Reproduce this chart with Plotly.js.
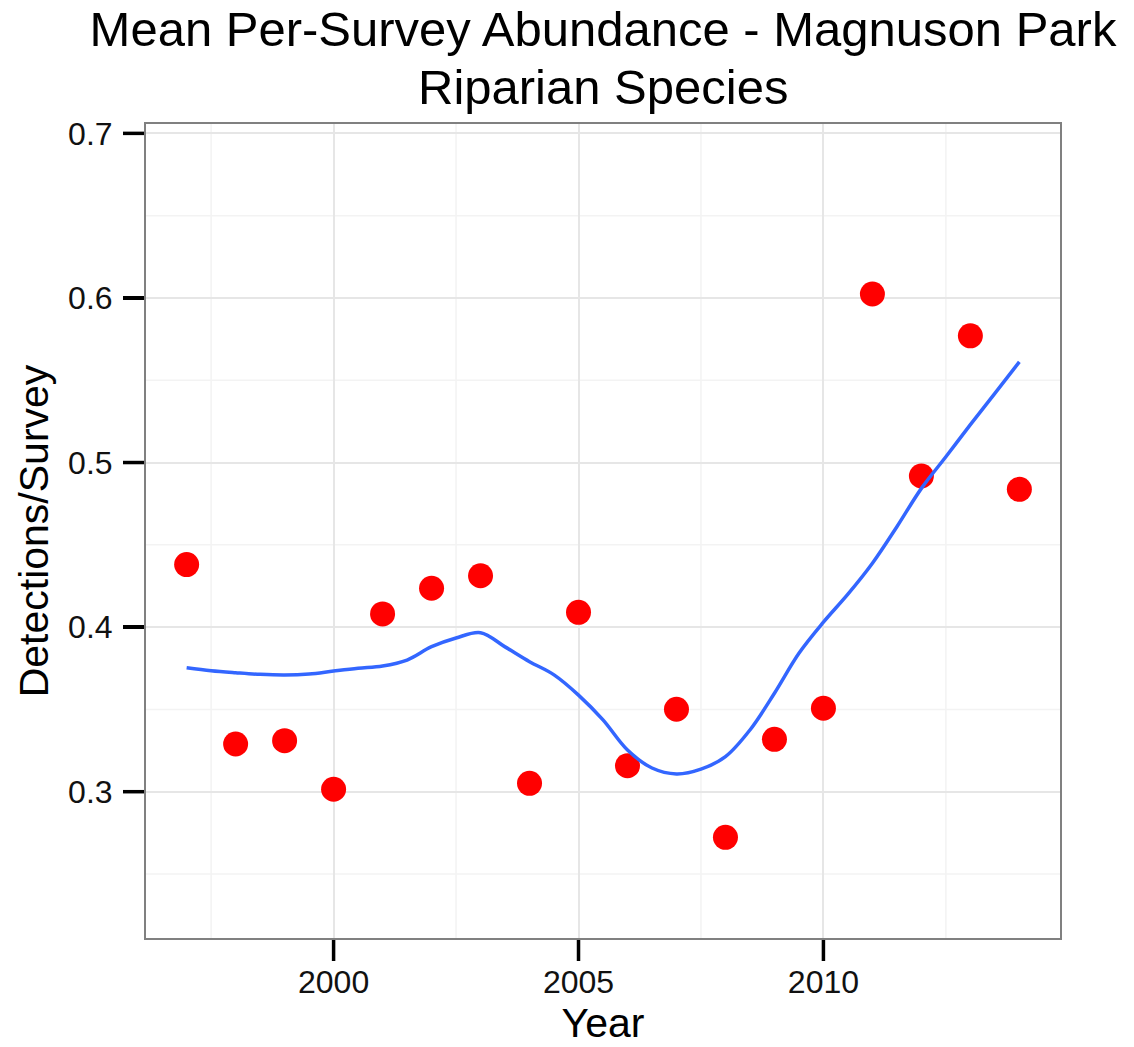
<!DOCTYPE html>
<html>
<head>
<meta charset="utf-8">
<script src="https://cdn.plot.ly/plotly-3.0.1.min.js"></script>
<style>
  html, body { margin: 0; padding: 0; background: #ffffff; }
  #wrap { position: relative; width: 1134px; height: 1047px; }
  #chart { width: 1134px; height: 1047px; }
  #ticks { position: absolute; left: 0; top: 0; pointer-events: none; }
</style>
</head>
<body>
<div id="wrap">
  <div id="chart"></div>
  <svg id="ticks" width="1134" height="1047" xmlns="http://www.w3.org/2000/svg"></svg>
</div>
<script>
// Observed mean per-survey abundance (red points)
const years = [1997, 1998, 1999, 2000, 2001, 2002, 2003, 2004, 2005,
               2006, 2007, 2008, 2009, 2010, 2011, 2012, 2013, 2014];
const abundance = [0.438, 0.329, 0.331, 0.3015, 0.408, 0.4236, 0.4312, 0.3051, 0.409,
                   0.3158, 0.3501, 0.2723, 0.3318, 0.3507, 0.6024, 0.4918, 0.577, 0.4837];

// Loess smooth (blue line), read at half-year steps
const smoothYears = [1997, 1997.5, 1998, 1998.5, 1999, 1999.5, 2000, 2000.5, 2001, 2001.5,
                     2002, 2002.5, 2003, 2003.5, 2004, 2004.5, 2005, 2005.5, 2006, 2006.5,
                     2007, 2007.5, 2008, 2008.5, 2009, 2009.5, 2010, 2010.5, 2011, 2011.5,
                     2012, 2012.5, 2013, 2013.5, 2014];
const smoothValues = [0.3753, 0.3735, 0.3723, 0.3713, 0.3709, 0.3715, 0.3733, 0.3750, 0.3764, 0.3800,
                      0.3881, 0.3934, 0.3966, 0.3880, 0.3790, 0.3710, 0.3587, 0.3436, 0.3253, 0.3144,
                      0.3108, 0.3137, 0.3213, 0.3375, 0.3598, 0.3841, 0.4030, 0.4200, 0.4388, 0.4610,
                      0.4843, 0.5035, 0.5230, 0.5420, 0.5612];

const xTicks = [2000, 2005, 2010];
const yTicks = [0.3, 0.4, 0.5, 0.6, 0.7];
const xMinor = [1997.5, 2002.5, 2007.5, 2012.5];
const yMinor = [0.25, 0.35, 0.45, 0.55, 0.65];
const titleLine1 = 'Mean Per-Survey Abundance - Magnuson Park';
const titleLine2 = 'Riparian Species';
const xTitle = 'Year';
const yTitle = 'Detections/Survey';

const FONT = '"Liberation Sans", Arial, Helvetica, sans-serif';
const TICK_LEN = 21;
const X_RANGE = [1996.15, 2014.85];
const Y_RANGE = [0.2105, 0.7063];

const traces = [
  {
    type: 'scatter', mode: 'markers',
    x: years, y: abundance,
    marker: { color: '#ff0000', size: 25, line: { width: 0 } },
    showlegend: false, hoverinfo: 'x+y'
  },
  {
    type: 'scatter', mode: 'lines',
    x: smoothYears, y: smoothValues,
    line: { color: '#3366ff', width: 3.5, shape: 'spline', smoothing: 1 },
    showlegend: false, hoverinfo: 'x+y'
  }
];

const shapes = [];
// minor grid lines
xMinor.forEach(v => shapes.push({
  type: 'line', xref: 'x', x0: v, x1: v, yref: 'paper', y0: 0, y1: 1,
  line: { color: '#f3f3f3', width: 1.5 }, layer: 'below'
}));
yMinor.forEach(v => shapes.push({
  type: 'line', yref: 'y', y0: v, y1: v, xref: 'paper', x0: 0, x1: 1,
  line: { color: '#f3f3f3', width: 1.5 }, layer: 'below'
}));
// panel border
shapes.push({
  type: 'rect', xref: 'paper', yref: 'paper', x0: 0, x1: 1, y0: 0, y1: 1,
  line: { color: '#808080', width: 2 }, fillcolor: 'rgba(0,0,0,0)', layer: 'above'
});

const layout = {
  width: 1134, height: 1047,
  paper_bgcolor: '#ffffff', plot_bgcolor: '#ffffff',
  margin: { l: 145, r: 73, t: 123, b: 108, pad: 0 },
  font: { family: FONT, color: '#111111' },
  title: {
    text: titleLine1,
    font: { family: FONT, size: 49, color: '#000000' },
    x: 0.5, xref: 'paper', xanchor: 'center',
    y: 1, yref: 'container', yanchor: 'top',
    pad: { t: 12 }
  },
  annotations: [{
    text: titleLine2, showarrow: false,
    xref: 'paper', x: 0.5, xanchor: 'center',
    yref: 'paper', y: 1, yanchor: 'bottom', yshift: 7,
    font: { family: FONT, size: 49, color: '#000000' }
  }],
  shapes: shapes,
  xaxis: {
    range: X_RANGE,
    tickmode: 'array', tickvals: xTicks, ticktext: xTicks.map(String),
    ticks: 'outside', ticklen: TICK_LEN, tickwidth: 3.5, tickcolor: '#000000',
    tickfont: { family: FONT, size: 32, color: '#111111' },
    ticklabelstandoff: -6,
    showgrid: true, gridcolor: '#e6e6e6', gridwidth: 2,
    showline: false, zeroline: false,
    title: { text: xTitle, font: { family: FONT, size: 41, color: '#000000' }, standoff: 4 }
  },
  yaxis: {
    range: Y_RANGE,
    tickmode: 'array', tickvals: yTicks, ticktext: yTicks.map(v => v.toFixed(1)),
    ticks: 'outside', ticklen: TICK_LEN, tickwidth: 3.5, tickcolor: '#000000',
    tickfont: { family: FONT, size: 32, color: '#111111' },
    ticklabelstandoff: 4,
    showgrid: true, gridcolor: '#e6e6e6', gridwidth: 2,
    showline: false, zeroline: false,
    title: { text: yTitle, font: { family: FONT, size: 41, color: '#000000' }, standoff: 6 }
  }
};

Plotly.newPlot('chart', traces, layout, { displayModeBar: false, staticPlot: true }).then(gd => {
  // Overlay the outside tick marks, positioned with the chart's own axis scales
  const xa = gd._fullLayout.xaxis;
  const ya = gd._fullLayout.yaxis;
  const svg = document.getElementById('ticks');
  const NS = 'http://www.w3.org/2000/svg';
  const addLine = (x1, y1, x2, y2) => {
    const l = document.createElementNS(NS, 'line');
    l.setAttribute('x1', x1); l.setAttribute('y1', y1);
    l.setAttribute('x2', x2); l.setAttribute('y2', y2);
    l.setAttribute('stroke', '#000000');
    l.setAttribute('stroke-width', '3.5');
    svg.appendChild(l);
  };
  const bottom = ya._offset + ya._length;
  xTicks.forEach(v => {
    const px = xa._offset + xa.l2p(v);
    addLine(px, bottom + 1, px, bottom + 1 + TICK_LEN);
  });
  const left = xa._offset;
  yTicks.forEach(v => {
    const py = ya._offset + ya.l2p(v);
    addLine(left - 1, py, left - 1 - TICK_LEN, py);
  });
});
</script>
</body>
</html>
